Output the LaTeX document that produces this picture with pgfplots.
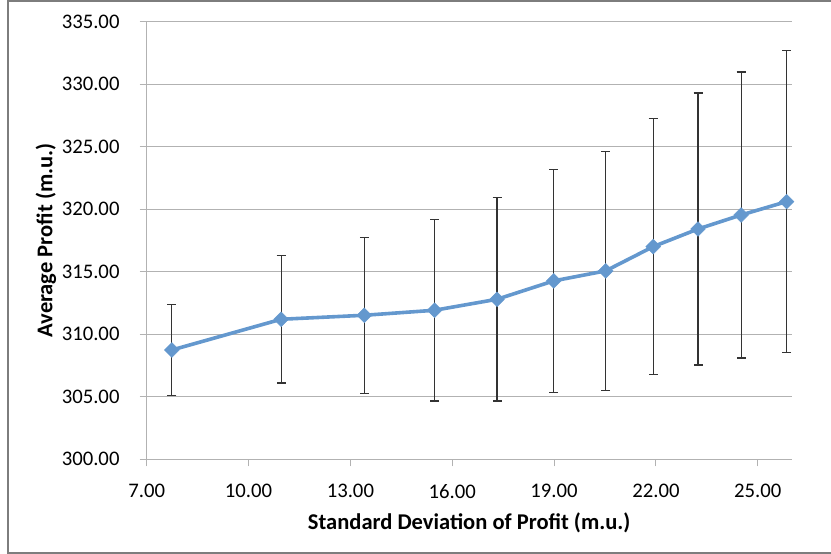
\documentclass[border=0pt]{standalone}
\usepackage{fontspec}
\setmainfont{Carlito}
\usepackage{pgfplots}
\usepackage{pgfplotstable}
\pgfplotsset{compat=1.18}
\definecolor{lineblue}{RGB}{100,152,206}
\definecolor{gridgray}{RGB}{178,178,178}
\definecolor{framegray}{RGB}{125,125,125}
\pgfplotstableread{
x y e
7.74 308.74 3.64
10.96 311.20 5.10
13.41 311.52 6.25
15.48 311.92 7.25
17.32 312.80 8.14
18.99 314.27 8.90
20.52 315.07 9.58
21.92 317.01 10.24
23.24 318.42 10.87
24.51 319.54 11.44
25.85 320.61 12.08
}\datatable
\begin{document}
\begin{tikzpicture}
\useasboundingbox (0bp,0bp) rectangle (831bp,554bp);
\draw[framegray, line width=1.5bp] (831bp,553bp) -- (8bp,553bp) -- (8bp,1bp) -- (831bp,1bp);
\begin{axis}[
  at={(146.7bp,94.7bp)}, anchor=south west,
  scale only axis, width=645bp, height=437.6bp,
  xmin=7, xmax=26, ymin=300, ymax=335,
  xtick={7,10,...,25}, ytick={300,305,...,335},
  axis x line*=bottom, axis y line*=left,
  axis line style={gridgray, line width=1bp},
  ymajorgrids, grid style={gridgray, line width=1bp},
  tick align=outside, major tick length=7bp,
  tick style={gridgray, line width=1bp},
  clip=false,
  ticklabel style={font=\fontsize{20.8}{24}\selectfont, black},
  /pgf/number format/.cd, fixed, fixed zerofill, precision=2, assume math mode=true,
  /pgfplots/.cd,
  xticklabel style={anchor=north, inner sep=0pt, yshift=-18bp},
  yticklabel style={anchor=east, inner sep=0pt, xshift=-20bp},
  xlabel={\bfseries Standard Deviation of Profit (m.u.)},
  ylabel={\bfseries Average Profit (m.u.)},
  xlabel style={font=\fontsize{22.6}{26}\selectfont, at={(axis description cs:0.5,0)}, anchor=center, yshift=-64bp},
  ylabel style={font=\fontsize{22.6}{26}\selectfont, at={(axis description cs:0,0.5)}, anchor=center, yshift=100.7bp},
]
\addplot[lineblue, line width=3.6bp, mark=square*, mark size=5.2bp,
  mark options={rotate=45, fill=lineblue, draw=lineblue, line width=0.5bp},
  error bars/.cd, y dir=both, y explicit,
  error bar style={black!80, line width=1.2bp},
  error mark options={black!80, line width=1.2bp, mark size=4.5bp, rotate=90}]
  table[x=x, y=y, y error=e] {\datatable};
\end{axis}
\end{tikzpicture}
\end{document}
